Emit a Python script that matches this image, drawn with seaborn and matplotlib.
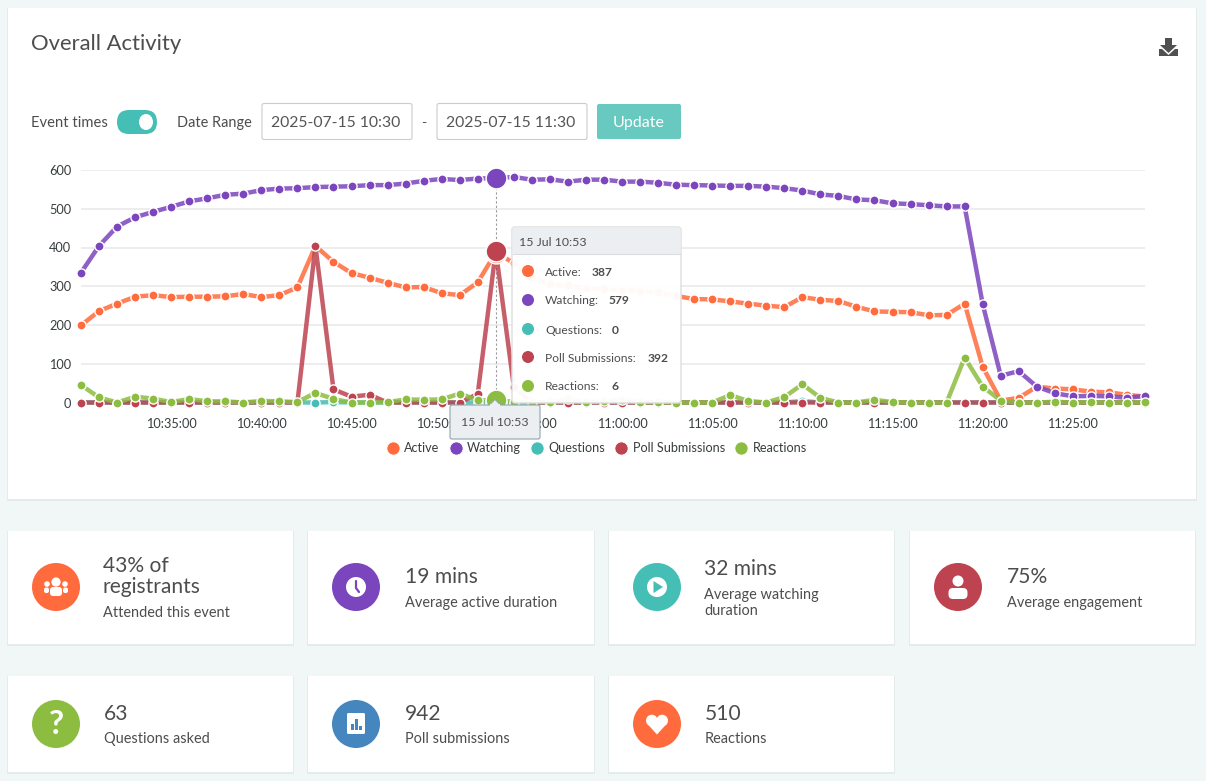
import pandas as pd
import seaborn as sns
import matplotlib
matplotlib.use("Agg")
import matplotlib.pyplot as plt
import matplotlib.dates as mdates
from matplotlib.colors import to_rgba
from matplotlib.lines import Line2D
from matplotlib.patches import Circle, Ellipse, FancyBboxPatch, Polygon, Rectangle

# minutes from 10:30 to 11:29
times = pd.date_range("2025-07-15 10:30", periods=60, freq="min")

active = [199, 236, 255, 273, 277, 272, 273, 273, 274, 280,
          272, 277, 297, 404, 363, 334, 322, 309, 297, 298,
          282, 277, 310, 387, 360, 325, 305, 302, 295, 292,
          288, 288, 284, 275, 267, 266, 261, 255, 250, 246,
          272, 265, 262, 247, 235, 234, 233, 225, 226, 255,
          92, 5, 12, 41, 36, 34, 28, 26, 20, 15]
watching = [335, 404, 454, 478, 492, 505, 519, 527, 536, 539,
            548, 552, 553, 556, 557, 558, 561, 561, 565, 572,
            577, 574, 578, 579, 582, 575, 576, 570, 575, 575,
            570, 570, 567, 562, 561, 560, 559, 559, 557, 553,
            547, 537, 533, 524, 522, 514, 512, 509, 506, 506,
            254, 69, 81, 41, 24, 16, 17, 16, 12, 17]
questions = [0, 0, 0, 0, 0, 0, 0, 0, 0, 0,
             0, 0, 0, 0, 1, 0, 0, 0, 0, 0,
             0, 0, 0, 0, 0, 0, 0, 0, 0, 0,
             0, 0, 0, 0, 0, 0, 0, 0, 0, 0,
             4, 0, 0, 0, 0, 0, 0, 0, 0, 0,
             0, 0, 0, 0, 0, 0, 0, 0, 0, 0]
poll = [0, 0, 0, 0, 0, 0, 0, 0, 0, 0,
        0, 0, 0, 404, 34, 15, 20, 0, 0, 0,
        0, 0, 22, 392, 41, 0, 0, 0, 0, 0,
        0, 0, 0, 0, 0, 0, 0, 0, 0, 0,
        0, 0, 0, 0, 0, 0, 0, 0, 0, 0,
        0, 0, 0, 0, 0, 0, 0, 0, 0, 0]
reactions = [45, 13, 0, 15, 10, 1, 9, 3, 3, 0,
             4, 3, 1, 25, 9, 0, 0, 1, 8, 7,
             8, 23, 6, 6, 2, 1, 1, 8, 1, 3,
             7, 1, 1, 0, 0, 0, 19, 4, 0, 14,
             47, 12, 0, 0, 7, 1, 0, 0, 0, 116,
             41, 5, 0, 0, 2, 0, 1, 0, 0, 1]

series_names = ["Active", "Watching", "Questions", "Poll Submissions", "Reactions"]
series_values = [active, watching, questions, poll, reactions]
series_colors = ["#FF6B3D", "#7B45BD", "#45BFB5", "#BD4350", "#8CBD41"]
hover_index = 23
hover_label = "15 Jul 10:53"
hover_values = ["387", "579", "0", "392", "6"]

TEXT = "#4d4d4d"
W, H = 1206, 781


def px(size):
    # css pixels to points at dpi 100
    return size * 0.72


def set_config():
    sns.set_theme(style="white")
    plt.rcParams["font.family"] = ["Lato", "DejaVu Sans"]


def label(ax, x, y, s, size=14, color=TEXT, **kw):
    kw.setdefault("va", "center")
    ax.text(x, y + 1, s, fontsize=px(size), color=color, **kw)


def box(ax, x0, y0, x1, y1, face, edge="none", r=0, lw=1, **kw):
    ax.add_patch(FancyBboxPatch((x0 + r, y0 + r), x1 - x0 - 2 * r, y1 - y0 - 2 * r,
                                boxstyle=f"round,pad={r},rounding_size={r}",
                                fc=face, ec=edge, lw=lw, **kw))


def card(ax, x0, y0, x1, y1):
    ax.add_patch(Rectangle((x0 - 1, y0), x1 - x0 + 2, y1 - y0 + 2, fc="#e5eaea", ec="none"))
    ax.add_patch(Rectangle((x0, y0), x1 - x0, y1 - y0, fc="white", ec="none"))


def draw_icon(ax, kind, cx, cy, color):
    ax.add_patch(Circle((cx, cy), 24, fc=color, ec="none"))
    if kind == "users":
        ax.add_patch(Circle((cx, cy - 5), 4.6, fc="white", ec="none"))
        ax.add_patch(Circle((cx - 9, cy - 3), 2.8, fc="white", ec="none"))
        ax.add_patch(Circle((cx + 9, cy - 3), 2.8, fc="white", ec="none"))
        box(ax, cx - 6, cy, cx + 6, cy + 9, "white", r=3)
        box(ax, cx - 12, cy + 0.5, cx - 7, cy + 6, "white", r=2)
        box(ax, cx + 7, cy + 0.5, cx + 12, cy + 6, "white", r=2)
    elif kind == "clock":
        ax.add_patch(Circle((cx, cy), 10, fc="white", ec="none"))
        ax.plot([cx, cx, cx + 3], [cy - 6, cy + 1, cy + 5], color=color, lw=1.6)
    elif kind == "play":
        ax.add_patch(Circle((cx, cy), 10, fc="white", ec="none"))
        ax.add_patch(Polygon([(cx - 3.5, cy - 6), (cx - 3.5, cy + 6), (cx + 6, cy)], fc=color, ec="none"))
    elif kind == "user":
        ax.add_patch(Circle((cx, cy - 6), 5.5, fc="white", ec="none"))
        box(ax, cx - 9.5, cy + 1, cx + 9.5, cy + 12, "white", r=4.5)
    elif kind == "question":
        ax.text(cx, cy + 0.5, "?", fontsize=px(33), color="white", ha="center", va="center",
                fontweight="bold")
    elif kind == "bars":
        box(ax, cx - 9, cy - 11, cx + 9, cy + 10, "white", r=1.5)
        for dx, top in [(-5, 0), (-1, -5), (3, 2)]:
            ax.add_patch(Rectangle((cx + dx, cy + top), 2.5, 6 - top, fc=color, ec="none"))
    elif kind == "heart":
        ax.add_patch(Circle((cx - 5.2, cy - 3.5), 5.8, fc="white", ec="none"))
        ax.add_patch(Circle((cx + 5.2, cy - 3.5), 5.8, fc="white", ec="none"))
        ax.add_patch(Polygon([(cx - 10.6, cy - 1.2), (cx + 10.6, cy - 1.2), (cx, cy + 10.5)],
                             fc="white", ec="none"))


def draw_page(ax):
    ax.add_patch(Rectangle((0, 0), W, H, fc="#f1f6f6", ec="none"))
    card(ax, 8, 8, 1196, 499)
    for x0, x1 in [(8, 293), (308, 594), (609, 894), (910, 1195)]:
        card(ax, x0, 531, x1, 644)
    for x0, x1 in [(8, 293), (308, 594), (609, 894)]:
        card(ax, x0, 676, x1, 772)

    label(ax, 31, 43, "Overall Activity", size=22)

    # download icon
    ax.add_patch(Polygon([(1165, 38), (1172, 38), (1172, 45), (1177, 45), (1168.5, 53), (1160, 45), (1165, 45)],
                         fc="#505050", ec="none"))
    ax.add_patch(Polygon([(1159, 49), (1162, 49), (1168.5, 55), (1175, 49), (1178, 49), (1178, 56), (1159, 56)],
                         fc="#505050", ec="none"))

    # controls row
    label(ax, 31, 122, "Event times", size=14.7)
    box(ax, 117, 110, 157, 134, "#45BFB5", r=12)
    ax.add_patch(Ellipse((146, 122), 14, 16, fc="white", ec="none"))
    label(ax, 177, 122, "Date Range", size=14.5)
    for x0, s in [(262, "2025-07-15 10:30"), (437, "2025-07-15 11:30")]:
        box(ax, x0, 103.5, x0 + 150, 139.5, "white", edge="#cccccc", r=2, lw=0.8)
        label(ax, x0 + 9, 122, s, size=15.8, color="#555555")
    label(ax, 424, 122, "-", size=14, ha="center")
    box(ax, 597, 104, 681, 139, "#68C9C0", r=2)
    label(ax, 639, 122, "Update", size=16, color="white", ha="center")

    # stat cards
    stats = [
        ("users", 56, 587, series_colors[0], 103, ["43% of", "registrants"], [565, 586], ["Attended this event"], [612]),
        ("clock", 356, 587, series_colors[1], 405, ["19 mins"], [576], ["Average active duration"], [602]),
        ("play", 657, 587, series_colors[2], 704, ["32 mins"], [568], ["Average watching", "duration"], [594, 610]),
        ("user", 958, 587, series_colors[3], 1007, ["75%"], [576], ["Average engagement"], [602]),
        ("question", 56, 724, series_colors[4], 104, ["63"], [713], ["Questions asked"], [738]),
        ("bars", 356, 724, "#4486BD", 405, ["942"], [713], ["Poll submissions"], [738]),
        ("heart", 657, 724, series_colors[0], 705, ["510"], [713], ["Reactions"], [738]),
    ]
    for kind, cx, cy, color, tx, big, big_y, small, small_y in stats:
        draw_icon(ax, kind, cx, cy, color)
        for s, y in zip(big, big_y):
            label(ax, tx, y, s, size=21)
        for s, y in zip(small, small_y):
            label(ax, tx, y, s, size=14.5)


def draw_chart(ax):
    df = pd.DataFrame({"time": times, **dict(zip(series_names, series_values))})
    long_df = df.melt(id_vars="time", var_name="series", value_name="value")
    sns.lineplot(data=long_df, x="time", y="value", hue="series", hue_order=series_names,
                 palette=series_colors, marker="o", markersize=6.6, markeredgecolor="white",
                 markeredgewidth=1.0, linewidth=3.2, errorbar=None, legend=False, ax=ax)
    for line, color in zip(ax.lines, series_colors):
        line.set_clip_on(False)
        line.set_color(to_rgba(color, 0.85))
        line.set_markerfacecolor(color)

    # hovered point
    ax.axvline(times[hover_index], ymax=579 / 600, color="#9a9a9a", lw=0.8, ls=(0, (2, 2)), zorder=1.5)
    for values, color in zip(series_values, series_colors):
        ax.plot([times[hover_index]], [values[hover_index]], "o", ms=15, mfc=color, mec="white",
                mew=1.1, clip_on=False, zorder=3)

    ax.set_xlim(times[0], times[-1])
    ax.set_ylim(0, 600)
    ax.set_yticks(range(0, 601, 100))
    ax.xaxis.set_major_locator(mdates.MinuteLocator(byminute=range(0, 60, 5)))
    ax.xaxis.set_major_formatter(mdates.DateFormatter("%H:%M:%S"))
    ax.set_xticks([t for t in ax.get_xticks() if mdates.date2num(times[0]) < t])
    ax.set_xlabel("")
    ax.set_ylabel("")
    ax.grid(axis="y", color="#e8e8e8", lw=1.1)
    ax.set_axisbelow(True)
    ax.tick_params(axis="x", length=0, pad=11, labelsize=px(12.7), labelcolor="#373d3f")
    ax.tick_params(axis="y", length=0, pad=7, labelsize=px(12.7), labelcolor="#373d3f")
    sns.despine(ax=ax, left=True, bottom=True)
    ax.patch.set_alpha(0)

    handles = [Line2D([], [], ls="none", marker="o", ms=9.5, mfc=c, mec="white", mew=0.6) for c in series_colors]
    ax.legend(handles, series_names, loc="center", bbox_to_anchor=(593.5 / W, 1 - 448 / H),
              bbox_transform=ax.figure.transFigure, ncols=5, frameon=False, fontsize=px(12.6),
              labelcolor="#373d3f", handletextpad=-0.1, columnspacing=0.29, borderpad=0)


def draw_tooltip(ax):
    box(ax, 512, 227, 681, 403, (1, 1, 1, 0.96), edge="#dddddd", r=3)
    box(ax, 512.5, 227.5, 680.5, 254, "#ECEFF1", r=2)
    ax.plot([512.5, 680.5], [254, 254], color="#dddddd", lw=0.8)
    label(ax, 519, 241, hover_label, size=12.4)

    ys = [271, 300, 329, 357, 386]
    value_x = [592, 609, 612, 648, 611]
    for name, color, value, y, vx in zip(series_names, series_colors, hover_values, ys, value_x):
        ax.add_patch(Circle((528, y), 6, fc=color, ec="none"))
        label(ax, 545, y, name + ":", size=12)
        label(ax, vx, y, value, size=12, fontweight="bold")

    # x axis hover label
    ax.add_patch(Polygon([(489, 405.5), (495, 399.5), (501, 405.5)], fc="#ECEFF1", ec="#90A4AE", lw=0.7))
    box(ax, 450, 405, 540, 439, "#ECEFF1", edge="#90A4AE", r=2, lw=0.8)
    ax.add_patch(Rectangle((489.6, 404), 10.8, 2, fc="#ECEFF1", ec="none"))
    label(ax, 495, 422, hover_label, size=12.4, ha="center")


def overlay_axes(fig, z):
    ax = fig.add_axes([0, 0, 1, 1], zorder=z)
    ax.set_xlim(0, W)
    ax.set_ylim(H, 0)
    ax.axis("off")
    return ax


def main():
    set_config()
    fig = plt.figure(figsize=(W / 100, H / 100), dpi=100)
    draw_page(overlay_axes(fig, 0))
    chart_ax = fig.add_axes([81 / W, 1 - 402.5 / H, (1145 - 81) / W, 232.5 / H], zorder=1)
    draw_chart(chart_ax)
    draw_tooltip(overlay_axes(fig, 2))
    fig.savefig("out.png", dpi=100)


if __name__ == "__main__":
    main()
